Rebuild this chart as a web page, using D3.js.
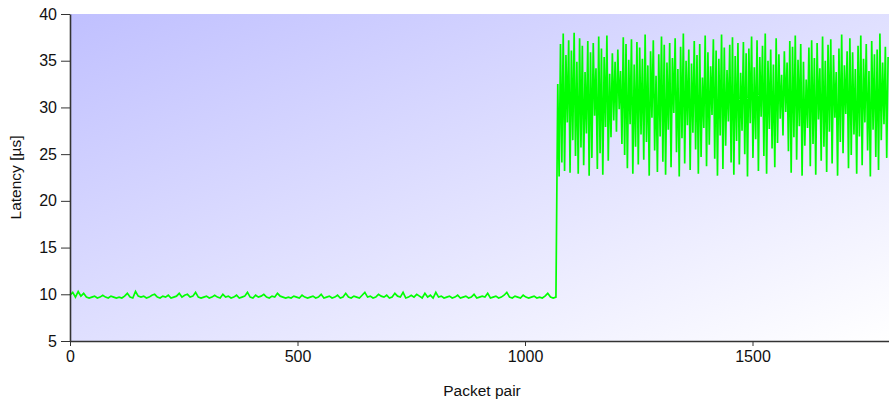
<!DOCTYPE html>
<html lang="en">
<head>
<meta charset="utf-8">
<title>Latency per packet pair</title>
<script src="https://d3js.org/d3.v7.min.js"></script>
<style>
  body { margin: 0; background: #fff; }
  svg { display: block; }
  .axis text { font-family: "Liberation Sans", Arial, sans-serif; font-size: 16px; fill: #111; }
  .axis path, .axis line { stroke: #333; }
  .label { font-family: "Liberation Sans", Arial, sans-serif; font-size: 15.5px; fill: #111; }
</style>
</head>
<body>
<svg width="889" height="402"></svg>
<script>
// latency before the change, one reading every 6 packet pairs
var lowStart = 0, lowStep = 6;
var lowValues = [
  9.9,10.2,9.7,10.3,9.8,10.1,9.7,9.6,9.7,9.8,9.6,9.7,9.9,9.7,9.6,9.8,9.7,9.6,9.7,9.6,
  9.8,10.1,9.7,9.6,10.3,9.8,9.7,9.8,9.6,9.7,9.9,10.0,9.7,9.6,9.8,9.7,9.9,9.6,9.7,9.8,
  10.1,9.7,9.9,10.0,9.7,9.8,10.2,9.7,9.6,9.7,9.8,9.6,9.7,9.9,9.7,9.6,10.0,9.7,9.8,9.6,
  9.7,9.9,9.6,9.7,9.8,10.2,9.7,9.6,9.9,9.7,9.8,10.0,9.7,9.6,9.8,9.7,10.1,9.8,9.7,9.6,
  9.7,9.6,9.8,9.7,9.6,9.9,9.7,9.6,9.7,9.8,9.6,9.7,10.0,9.6,9.7,9.8,9.6,9.7,9.9,9.6,
  9.7,10.1,9.7,9.6,9.8,9.7,9.6,9.9,10.2,9.7,9.8,9.6,9.7,10.0,9.8,9.7,9.9,9.6,9.7,10.1,
  9.8,9.7,10.2,9.6,9.7,9.9,9.7,10.0,9.8,9.6,10.1,9.7,9.9,9.6,10.2,9.7,9.8,9.6,9.7,9.8,
  9.6,9.7,9.9,9.6,9.7,9.8,9.6,9.7,10.0,9.6,9.7,9.8,9.7,10.1,9.6,9.7,9.8,9.6,9.7,9.9,
  10.2,9.7,9.6,9.8,9.7,9.6,9.9,9.7,9.6,9.7,9.8,9.6,9.7,9.6,9.8,10.1,9.7,9.6,9.7
];
// latency after the change, one reading every 3 packet pairs
var highStart = 1072, highStep = 3;
var highValues = [
  32.5,22.6,36.8,24.1,37.9,23.2,35.6,28.4,37.2,23.0,36.1,26.5,38.0,24.8,34.9,22.9,37.4,25.7,36.6,23.8,
  33.8,27.2,37.1,22.7,35.9,24.6,36.9,29.1,34.2,23.4,37.6,25.1,36.3,22.8,35.4,27.9,37.7,24.3,33.6,26.8,
  35.8,28.6,34.9,27.4,36.2,29.8,33.9,26.1,37.5,24.9,36.8,23.5,35.1,28.2,37.3,22.9,34.6,25.8,37.0,23.9,
  36.4,27.1,35.2,24.4,37.8,26.3,34.5,22.7,36.0,28.9,37.2,25.4,33.4,23.1,35.7,26.9,37.6,24.2,36.7,22.8,
  34.8,27.6,36.9,23.6,35.3,29.4,37.4,25.2,34.1,22.6,36.5,26.7,37.9,24.0,35.0,28.1,36.2,23.3,34.7,27.3,
  37.1,25.5,35.6,22.9,36.8,24.7,33.2,27.8,37.7,23.7,35.9,26.0,34.4,29.2,37.3,24.5,36.1,22.7,35.2,27.0,
  37.8,23.4,36.4,25.9,34.0,28.5,36.7,24.1,37.5,22.8,35.5,26.4,36.9,23.9,33.7,27.5,37.0,25.0,35.8,22.6,
  36.3,28.3,37.6,24.6,34.3,26.6,37.2,23.2,35.4,29.0,36.6,24.8,37.9,22.9,35.0,27.7,36.2,25.6,34.6,23.6,
  37.4,26.2,35.7,28.8,33.5,27.0,36.0,29.5,34.8,25.3,37.1,23.0,36.5,26.8,37.7,24.4,35.1,28.0,36.8,22.7,
  34.9,25.9,33.0,27.8,36.4,23.7,37.2,26.1,35.3,22.8,36.9,28.7,34.2,24.3,37.6,25.8,35.0,23.1,36.7,27.4,
  37.3,24.0,35.6,28.9,33.8,22.7,36.3,26.3,37.8,25.1,34.5,29.3,36.0,23.5,37.4,24.9,35.9,27.1,34.1,22.9,
  36.6,26.9,37.7,23.8,35.2,28.4,36.8,25.4,33.9,22.6,37.1,27.6,35.7,24.7,36.2,23.3,37.9,26.5,34.8,28.2,
  36.5,24.6,35.4
];
var xTicks = [0, 500, 1000, 1500];
var yTicks = [5, 10, 15, 20, 25, 30, 35, 40];

var svg = d3.select("svg"),
    margin = {top: 14, right: 0, bottom: 61, left: 70},
    width = +svg.attr("width") - margin.left - margin.right,
    height = +svg.attr("height") - margin.top - margin.bottom;

var points = lowValues.map(function(v, i) { return [lowStart + i * lowStep, v]; })
  .concat(highValues.map(function(v, i) { return [highStart + i * highStep, v]; }));

var x = d3.scaleLinear().domain([0, 1800]).range([0, width]);
var y = d3.scaleLinear().domain([5, 40]).range([height, 0]);

var defs = svg.append("defs");
var grad = defs.append("linearGradient")
    .attr("id", "bg")
    .attr("x1", "0").attr("y1", "0").attr("x2", "1").attr("y2", "1");
grad.append("stop").attr("offset", "0").attr("stop-color", "#c0c0ff");
grad.append("stop").attr("offset", "1").attr("stop-color", "#ffffff");

var g = svg.append("g").attr("transform", "translate(" + margin.left + "," + margin.top + ")");

g.append("rect")
    .attr("width", width)
    .attr("height", height)
    .attr("fill", "url(#bg)");

g.append("path")
    .datum(points)
    .attr("fill", "none")
    .attr("stroke", "#00ff00")
    .attr("stroke-width", 1.7)
    .attr("d", d3.line()
      .x(function(d) { return x(d[0]); })
      .y(function(d) { return y(d[1]); }));

g.append("g")
    .attr("class", "axis")
    .attr("transform", "translate(0," + height + ")")
    .call(d3.axisBottom(x).tickValues(xTicks).tickFormat(d3.format("d"))
      .tickSize(5).tickSizeOuter(0).tickPadding(5))
  .select(".domain").attr("stroke-width", 1.6);

g.append("g")
    .attr("class", "axis")
    .call(d3.axisLeft(y).tickValues(yTicks).tickSize(9).tickSizeOuter(0).tickPadding(4))
  .select(".domain").attr("stroke-width", 1.6);

svg.append("text")
    .attr("class", "label")
    .attr("transform", "translate(21," + (margin.top + height / 2) + ") rotate(-90)")
    .attr("text-anchor", "middle")
    .text("Latency [µs]");

svg.append("text")
    .attr("class", "label")
    .attr("x", 482)
    .attr("y", 396)
    .attr("text-anchor", "middle")
    .text("Packet pair");
</script>
</body>
</html>
